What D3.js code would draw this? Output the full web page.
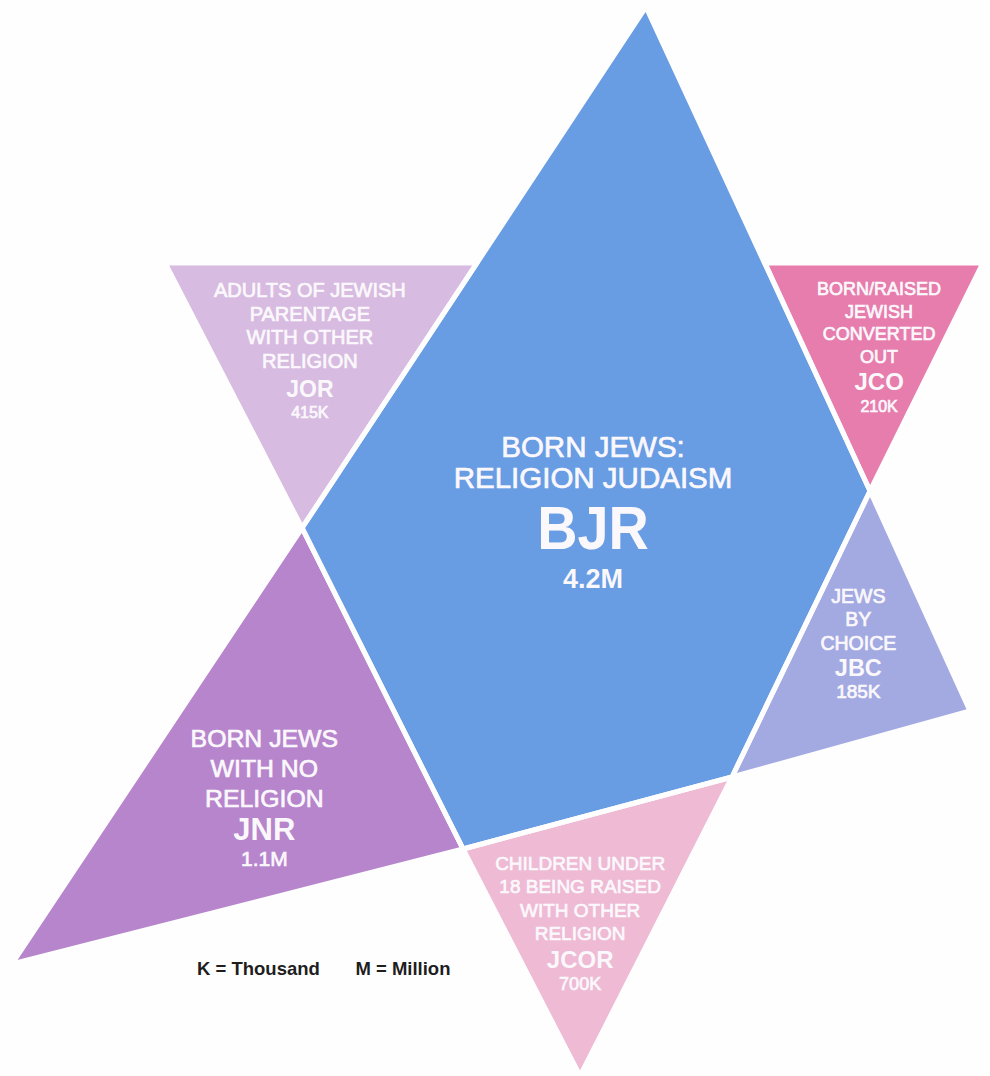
<!DOCTYPE html>
<html>
<head>
<meta charset="utf-8">
<script src="https://cdn.jsdelivr.net/npm/d3@7"></script>
<style>
  body { margin: 0; background: #fefefe; }
  svg { display: block; }
  text { font-family: "Liberation Sans", Arial, sans-serif; }
</style>
</head>
<body>
<div id="chart"></div>
<script>
// Group codes, their descriptions and counts
const codes = ["BJR", "JOR", "JCO", "JBC", "JCOR", "JNR"];
const names = [
  ["BORN JEWS:", "RELIGION JUDAISM"],
  ["ADULTS OF JEWISH", "PARENTAGE", "WITH OTHER", "RELIGION"],
  ["BORN/RAISED", "JEWISH", "CONVERTED", "OUT"],
  ["JEWS", "BY", "CHOICE"],
  ["CHILDREN UNDER", "18 BEING RAISED", "WITH OTHER", "RELIGION"],
  ["BORN JEWS", "WITH NO", "RELIGION"]
];
const values = ["4.2M", "415K", "210K", "185K", "700K", "1.1M"];
const legendItems = ["K = Thousand", "M = Million"];

// Chart size
const w = 990;
const h = 1076;

// Color palette
const blue = "#689ce3";
const lilac = "#d7bbe0";
const pink = "#e77dac";
const periwinkle = "#a3aae2";
const lightpink = "#eebad4";
const purple = "#b685cc";
const colors = { BJR: blue, JOR: lilac, JCO: pink, JBC: periwinkle, JCOR: lightpink, JNR: purple };

// Star geometry in diagram units (0-1000 grid)
const apex = [652.5, 6.5];
const right = [878.8, 456.3];
const lowRight = [739.4, 722.1];
const bottom = [467.7, 789];
const left = [305.1, 490.7];
const shapes = {
  BJR: [apex, right, lowRight, bottom, left],
  JOR: [[166.7, 244.4], [481.8, 244.4], left],
  JCO: [[772.7, 244.4], [992.9, 244.4], right],
  JBC: [right, [979.8, 660.8], lowRight],
  JCOR: [bottom, lowRight, [585.9, 1000]],
  JNR: [left, bottom, [12.1, 895.9]]
};

// Label anchors in diagram units: center x, first baseline y; line step and gaps in px
const labelPos = {
  BJR:  { x: 599, y: 424.7, step: 31,   size: 29.5, codeSize: 62, codeSx: 0.9, valSize: 27, codeGap: 61, valGap: 39 },
  JOR:  { x: 313, y: 276,   step: 23.7, size: 20,   codeSize: 23, codeSx: 1,    valSize: 16, codeGap: 29, valGap: 21 },
  JCO:  { x: 888, y: 274.2, step: 22.7, size: 18,   codeSize: 24, codeSx: 1,    valSize: 16, codeGap: 27, valGap: 22 },
  JBC:  { x: 867, y: 560.4, step: 23.5, size: 19.5, codeSize: 23.5, codeSx: 1,  valSize: 19, codeGap: 26, valGap: 22 },
  JCOR: { x: 586, y: 808.6, step: 23.3, size: 19,   codeSize: 24, codeSx: 1,    valSize: 18, codeGap: 28, valGap: 22 },
  JNR:  { x: 267, y: 694.2, step: 30,   size: 24.8, codeSize: 31, codeSx: 1,    valSize: 21, codeGap: 33, valGap: 26.5 }
};
const legendPos = [[199, 906], [359, 906]];

const xScale = d3.scaleLinear().domain([0, 1000]).range([0, w]);
const yScale = d3.scaleLinear().domain([0, 1000]).range([0, h]);

const svg = d3.select("#chart")
              .append("svg")
              .attr("width", w)
              .attr("height", h);

const line = d3.line()
               .x(d => xScale(d[0]))
               .y(d => yScale(d[1]))
               .curve(d3.curveLinearClosed);

// Fills first, white outlines on top make the gaps
svg.selectAll("path.fill")
   .data(codes)
   .enter()
   .append("path")
   .attr("class", "fill")
   .attr("d", d => line(shapes[d]))
   .attr("fill", d => colors[d]);

svg.selectAll("path.gap")
   .data(codes)
   .enter()
   .append("path")
   .attr("class", "gap")
   .attr("d", d => line(shapes[d]))
   .attr("fill", "none")
   .attr("stroke", "#fefefe")
   .attr("stroke-width", 5)
   .attr("stroke-linejoin", "round");

// Labels
const textColor = "#fbf8fc";
codes.forEach(function (c, i) {
  const p = labelPos[c];
  const g = svg.append("g").attr("fill", textColor).attr("text-anchor", "middle");
  const x = xScale(p.x);
  let y = yScale(p.y);
  names[i].forEach(function (t, k) {
    g.append("text")
     .attr("x", x)
     .attr("y", y + k * p.step)
     .attr("font-size", p.size)
     .attr("stroke", textColor)
     .attr("stroke-width", 0.7)
     .text(t);
  });
  y = y + (names[i].length - 1) * p.step + p.codeGap;
  g.append("text")
   .attr("transform", "translate(" + x + "," + y + ") scale(" + p.codeSx + ",1)")
   .attr("font-size", p.codeSize)
   .attr("font-weight", "bold")
   .text(c);
  g.append("text")
   .attr("x", x)
   .attr("y", y + p.valGap)
   .attr("font-size", p.valSize)
   .attr("font-weight", c == "BJR" ? "bold" : "normal")
   .attr("stroke", c == "BJR" ? "none" : textColor)
   .attr("stroke-width", 0.7)
   .text(values[i]);
});

// Legend
svg.selectAll("text.legend")
   .data(legendItems)
   .enter()
   .append("text")
   .attr("class", "legend")
   .attr("x", (d, i) => xScale(legendPos[i][0]))
   .attr("y", (d, i) => yScale(legendPos[i][1]))
   .attr("font-size", 18.5)
   .attr("font-weight", "bold")
   .attr("fill", "#1e1e1e")
   .text(d => d);
</script>
</body>
</html>
